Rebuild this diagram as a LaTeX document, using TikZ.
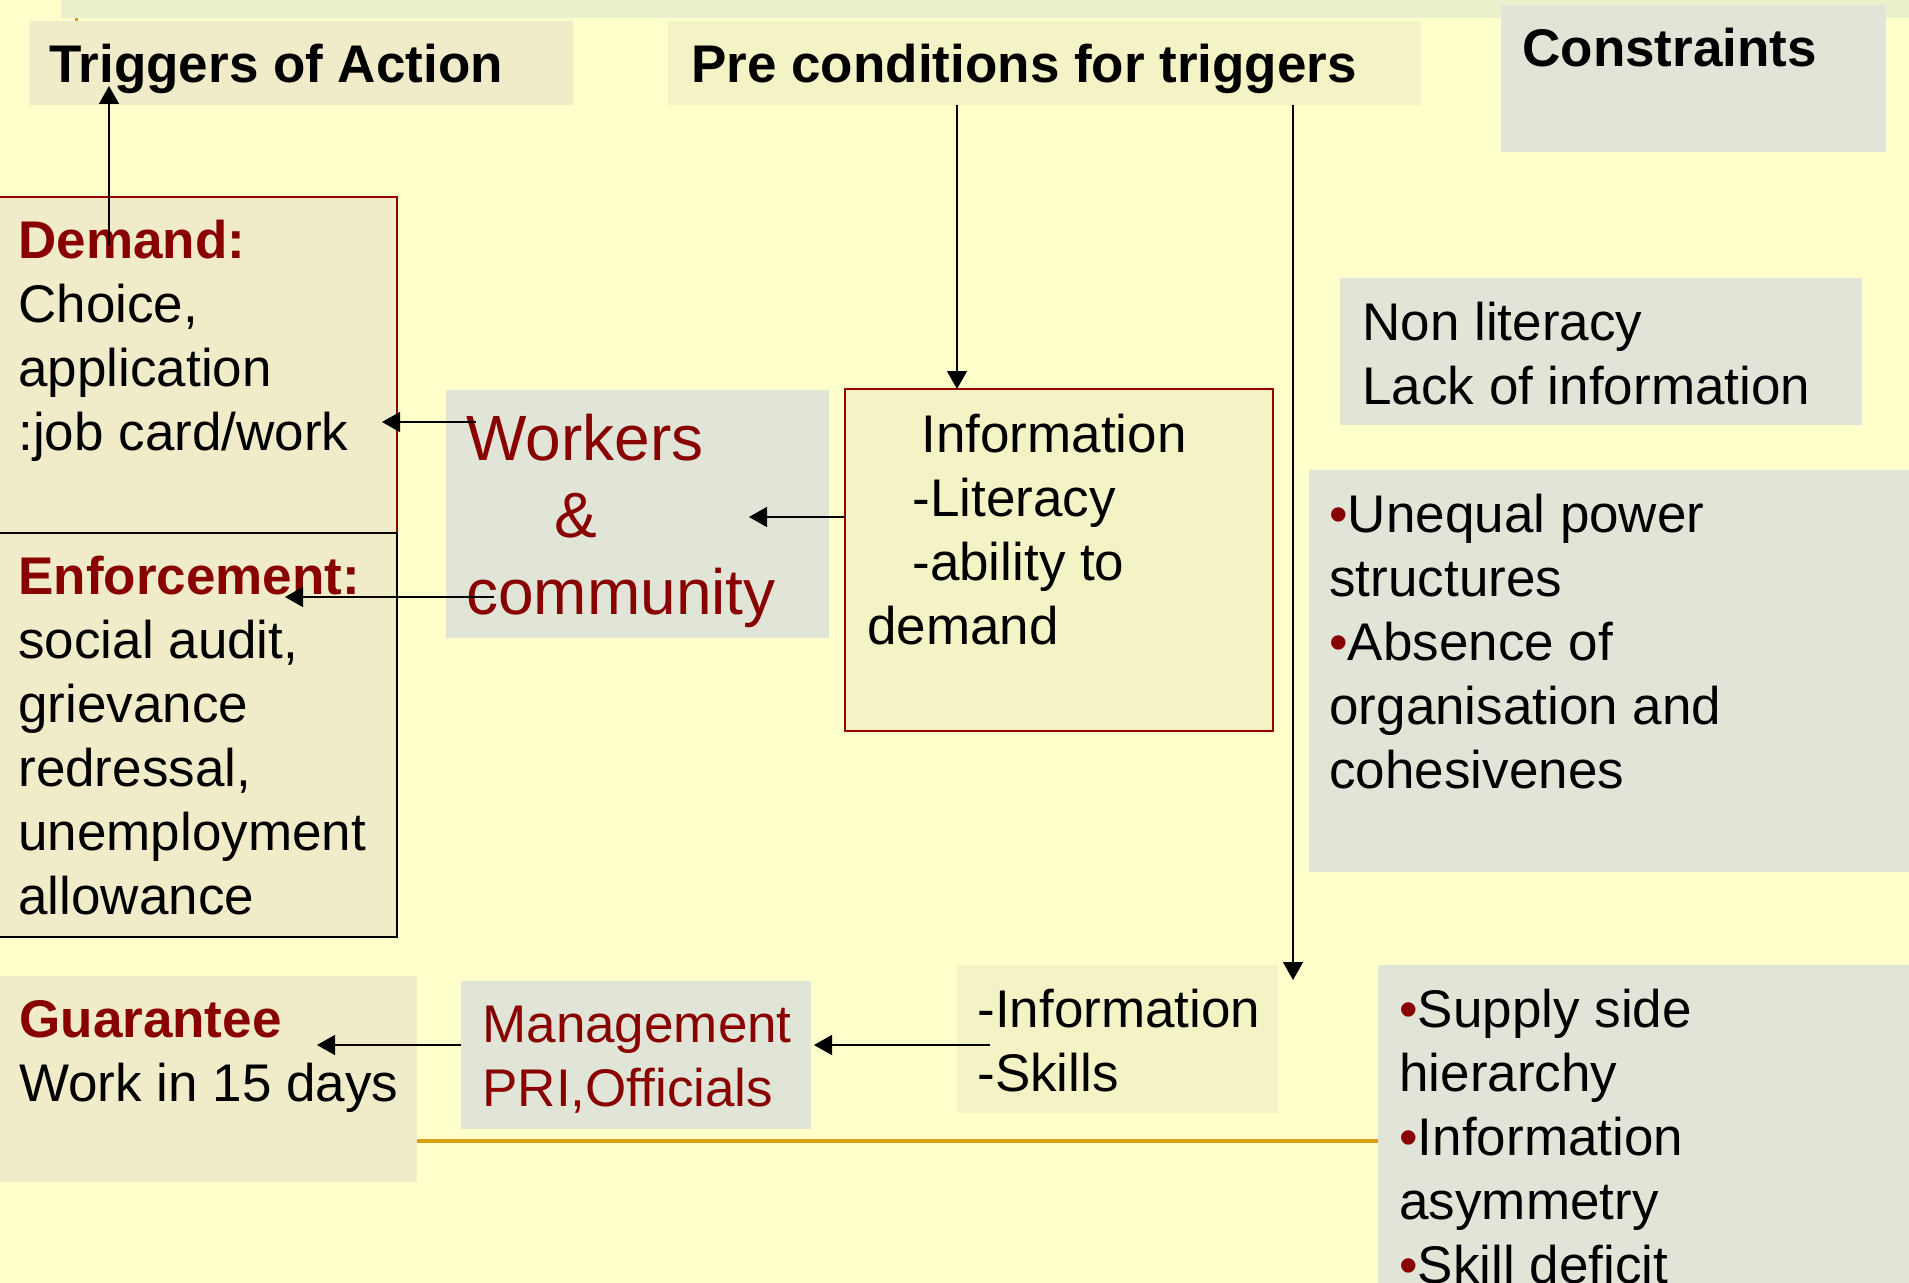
\documentclass[tikz,border=0pt]{standalone}
\usepackage{fontspec}
\setmainfont{Liberation Sans}
\usetikzlibrary{arrows.meta}
\definecolor{bgcol}{HTML}{FFFFCC}
\definecolor{stripcol}{HTML}{EAF1CC}
\definecolor{beigecol}{HTML}{F0EBC8}
\definecolor{yellcol}{HTML}{F4F3C6}
\definecolor{graycol}{HTML}{E0E5D8}
\definecolor{dred}{HTML}{880000}
\definecolor{bordred}{HTML}{9A0000}
\definecolor{orangecol}{HTML}{D4A010}
\newcommand\mlt[1]{\vtop{\halign{##\hfil\cr#1\crcr}}}
\begin{document}
\begin{tikzpicture}[x=0.5pt,y=-0.5pt,
  box/.style={anchor=north west, inner sep=0pt, outer sep=0pt},
  txt/.style={anchor=base west, inner sep=0pt, font=\fontsize{26.5}{32}\selectfont},
  bigtxt/.style={anchor=base west, inner sep=0pt, font=\fontsize{32}{38.5}\selectfont},
  arr/.style={-{Triangle[length=9pt,width=10pt]}, line width=0.75pt, black}]
\useasboundingbox (0,0) rectangle (1909,1283);
\clip (0,0) rectangle (1909,1283);
\fill[bgcol] (0,0) rectangle (1909,1283);
% top strip and tick
\fill[stripcol] (61,0) rectangle (1909,18);
\fill[orangecol] (75,18) rectangle (78,22);
% orange rule
\draw[orangecol, line width=2pt] (417,1141) -- (1378,1141);
% boxes
\node[box, fill=beigecol, minimum width=272pt, minimum height=42pt] (trig) at (29,21) {};
\node[box, fill=yellcol, minimum width=376.5pt, minimum height=42pt] (pre) at (668,21) {};
\node[box, fill=graycol, minimum width=192.5pt, minimum height=73.5pt] (cons) at (1501,5) {};
\node[box, fill=beigecol, draw=bordred, line width=0.8pt, minimum width=200pt, minimum height=168pt] (dem) at (-3,197) {};
\node[box, fill=beigecol, draw=black, line width=0.7pt, minimum width=200pt, minimum height=202pt] (enf) at (-3,533) {};
\node[box, fill=graycol, minimum width=191.5pt, minimum height=124pt] (work) at (446,390) {};
\node[box, fill=yellcol, draw=bordred, line width=0.9pt, minimum width=214pt, minimum height=171pt] (info) at (845,389) {};
\node[box, fill=graycol, minimum width=261pt, minimum height=73.5pt] (nonlit) at (1340,278) {};
\node[box, fill=graycol, minimum width=310pt, minimum height=201pt] (uneq) at (1309,470) {};
\node[box, fill=yellcol, minimum width=160.5pt, minimum height=74pt] (skill) at (957,965) {};
\node[box, fill=graycol, minimum width=175pt, minimum height=74pt] (mgmt) at (461,981) {};
\node[box, fill=beigecol, minimum width=208.5pt, minimum height=103pt] (guar) at (0,976) {};
\node[box, fill=graycol, minimum width=280pt, minimum height=170pt] (supp) at (1378,965) {};
% texts
\node[txt] (ttrig) at (49,83) {\bfseries Triggers of Action};
\node[txt] (tpre) at (691,83) {\bfseries Pre conditions for triggers};
\node[txt] (tcons) at (1522,67) {\bfseries Constraints};
\node[txt] (tdem) at (18,259) {\mlt{{\bfseries\color{dred}Demand:}\cr Choice,\cr application\cr :job card/work}};
\node[txt] (tenf) at (18,594) {\mlt{{\bfseries\color{dred}Enforcement:}\cr social audit,\cr grievance\cr redressal,\cr unemployment\cr allowance}};
\node[bigtxt, text=dred] (twork) at (466,460) {\mlt{Workers\cr \hspace*{44pt}\&\cr community}};
\node[txt] (tinfo) at (867,452) {\mlt{\hspace*{27pt}Information\cr \hspace*{22.5pt}-Literacy\cr \hspace*{22.5pt}-ability to\cr demand}};
\node[txt] (tnon) at (1362,341) {\mlt{Non literacy\cr Lack of information}};
\node[txt] (tuneq) at (1329,532) {\mlt{{\color{dred}•}Unequal power\cr structures\cr {\color{dred}•}Absence of\cr organisation and\cr cohesivenes}};
\node[txt] (tskill) at (977,1027) {\mlt{-Information\cr -Skills}};
\node[txt, text=dred] (tmgmt) at (482,1042) {\mlt{Management\cr PRI,Officials}};
\node[txt] (tguar) at (19,1037) {\mlt{{\bfseries\color{dred}Guarantee}\cr Work in 15 days}};
\node[txt] (tsupp) at (1399,1027) {\mlt{{\color{dred}•}Supply side\cr hierarchy\cr {\color{dred}•}Information\cr asymmetry\cr {\color{dred}•}Skill deficit}};
% connector end points
\coordinate (a1s) at (109,245);
\coordinate (a1e) at (109,86);
\coordinate (a2s) at (957,105);
\coordinate (a2e) at (957,389);
\coordinate (a3s) at (1293,105);
\coordinate (a3e) at (1293,980);
\coordinate (a4s) at (845,517);
\coordinate (a4e) at (749,517);
\coordinate (a5s) at (476,422);
\coordinate (a5e) at (382,422);
\coordinate (a6s) at (494,597);
\coordinate (a6e) at (285,597);
\coordinate (a7s) at (990,1045);
\coordinate (a7e) at (814,1045);
\coordinate (a8s) at (461,1045);
\coordinate (a8e) at (317,1045);
% connectors
\draw[arr] (a1s) -- (a1e);
\draw[arr] (a2s) -- (a2e);
\draw[arr] (a3s) -- (a3e);
\draw[arr] (a4s) -- (a4e);
\draw[arr] (a5s) -- (a5e);
\draw[arr] (a6s) -- (a6e);
\draw[arr] (a7s) -- (a7e);
\draw[arr] (a8s) -- (a8e);
\end{tikzpicture}
\end{document}
